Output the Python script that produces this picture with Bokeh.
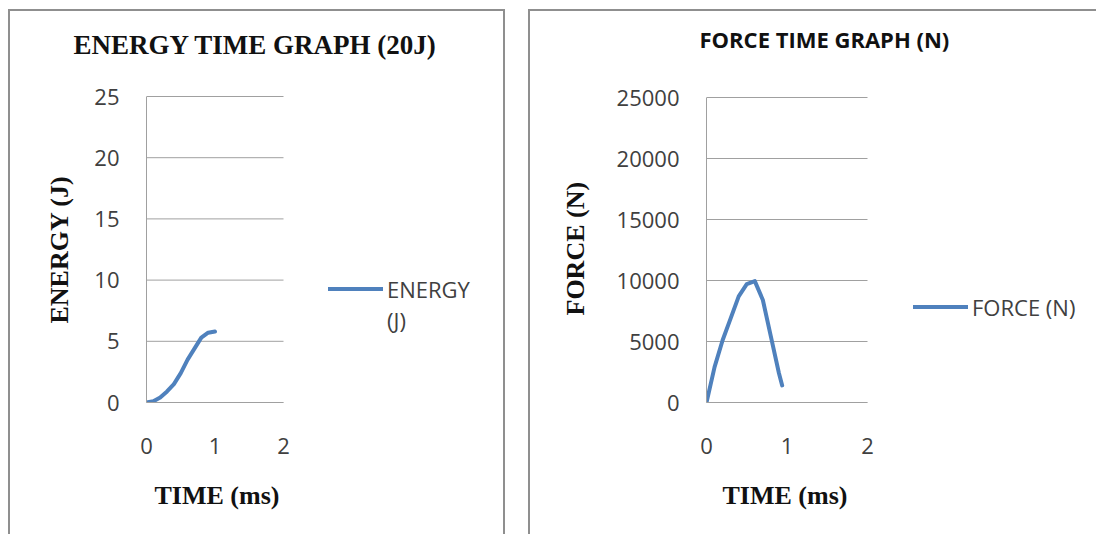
from bokeh.plotting import figure
from bokeh.layouts import row
from bokeh.models import Legend, LegendItem, Range1d, Title
from bokeh.embed import file_html
from bokeh.resources import INLINE

# ---- data ----
time_energy = [0.0, 0.1, 0.2, 0.3, 0.4, 0.5, 0.6, 0.7, 0.8, 0.9, 1.0]
energy = [0.0, 0.1, 0.4, 0.9, 1.5, 2.4, 3.5, 4.4, 5.3, 5.7, 5.8]

time_force = [0.0, 0.1, 0.2, 0.3, 0.4, 0.5, 0.6, 0.7, 0.8, 0.9, 0.94]
force = [0, 2900, 5100, 6900, 8700, 9700, 9950, 8400, 5400, 2400, 1400]

x_ticks = [0, 1, 2]
energy_ticks = [0, 5, 10, 15, 20, 25]
force_ticks = [0, 5000, 10000, 15000, 20000, 25000]

LINE_BLUE = "#4F81BD"
GRID = "#a0a0a0"
PANEL_BORDER = "#8f8f8f"
TICK_FONT = "Open Sans"
SERIF = "Liberation Serif"


def serif_title(text, side_offset, standoff):
    return Title(text=text, text_font=SERIF, text_font_style="bold",
                 text_font_size="26px", text_color="#111111",
                 align="left", offset=side_offset, standoff=standoff)


def make_panel(width, height, border_left, border_top, border_bottom,
               plot_w, plot_h, xs, ys, yticks, ylabel, legend_items, legend_loc,
               title, title_offset, title_standoff, title_font, title_size,
               xlabel_offset, xlabel_standoff, ylabel_offset, ylabel_standoff):
    frame_w = width - border_left - 8
    frame_h = height - border_top - border_bottom
    x_end = x_ticks[-1] * frame_w / plot_w
    y_end = yticks[-1] * frame_h / plot_h
    p = figure(width=width, height=height, output_backend="svg",
               toolbar_location=None,
               x_range=Range1d(0, x_end), y_range=Range1d(0, y_end),
               min_border_left=border_left, min_border_right=8,
               min_border_top=border_top, min_border_bottom=border_bottom)
    p.title.text = title
    p.title.text_font = title_font
    p.title.text_font_style = "bold"
    p.title.text_font_size = title_size
    p.title.text_color = "#111111"
    p.title.align = "left"
    p.title.offset = title_offset
    p.title.standoff = title_standoff

    p.xaxis.ticker = x_ticks
    p.yaxis.ticker = yticks
    p.xaxis.bounds = (x_ticks[0], x_ticks[-1])
    p.yaxis.bounds = (yticks[0], yticks[-1])
    for ax in (p.xaxis[0], p.yaxis[0]):
        ax.major_tick_out = 0
        ax.major_tick_in = 0
        ax.minor_tick_out = 0
        ax.minor_tick_in = 0
        ax.major_label_text_font = TICK_FONT
        ax.major_label_text_font_size = "22px"
        ax.major_label_text_color = "#404040"
        ax.axis_line_color = GRID
    p.xaxis.major_label_standoff = 35
    p.yaxis.major_label_standoff = 27
    p.xgrid.grid_line_color = None
    p.ygrid.grid_line_color = None
    p.outline_line_color = None
    p.background_fill_color = "white"
    p.border_fill_color = "white"

    # axis titles (placed beside the plotted span, not the whole frame)
    p.add_layout(serif_title("TIME (ms)", xlabel_offset, xlabel_standoff), "below")
    p.add_layout(serif_title(ylabel, ylabel_offset, ylabel_standoff), "left")

    # horizontal gridlines over the plotted x span
    p.segment(x0=[x_ticks[0]] * len(yticks), x1=[x_ticks[-1]] * len(yticks),
              y0=yticks, y1=yticks, line_color=GRID, line_width=1)

    r = p.line(xs, ys, line_color=LINE_BLUE, line_width=4,
               line_join="round", line_cap="round")
    items = []
    for i, lab in enumerate(legend_items):
        rr = r if i == 0 else p.line(xs, ys, line_alpha=0)
        items.append(LegendItem(label=lab, renderers=[rr]))
    leg = Legend(items=items, location=legend_loc)
    leg.border_line_color = None
    leg.background_fill_alpha = 0
    leg.padding = 0
    leg.margin = 0
    leg.spacing = 0
    leg.glyph_width = 55
    leg.glyph_height = 31
    leg.label_height = 31
    leg.label_standoff = 4
    leg.label_text_font = TICK_FONT
    leg.label_text_font_size = "22px"
    leg.label_text_color = "#404040"
    p.add_layout(leg)
    return p


p1 = make_panel(497, 525, 136, 53, 134, 137, 306, time_energy, energy,
                energy_ticks, "ENERGY (J)", ["ENERGY", "(J)"], (182, 67),
                "ENERGY TIME GRAPH (20J)", -73, 10, SERIF, "27px",
                8, 44, 79, 35)

p2 = make_panel(568, 525, 176, 53, 134, 161, 305, time_force, force,
                force_ticks, "FORCE (N)", ["FORCE (N)"], (207, 80),
                "FORCE TIME GRAPH (N)", -7, 21, TICK_FONT, "22px",
                16, 44, 87, 47)

border = f"2px solid {PANEL_BORDER}"
p1.styles = {"border-top": border, "border-left": border, "border-right": border}
p2.styles = {"border-top": border, "border-left": border}
p1.margin = (9, 0, 0, 8)
p2.margin = (9, 0, 0, 23)

layout = row(p1, p2)
open("out.html", "w").write(file_html(layout, INLINE))
